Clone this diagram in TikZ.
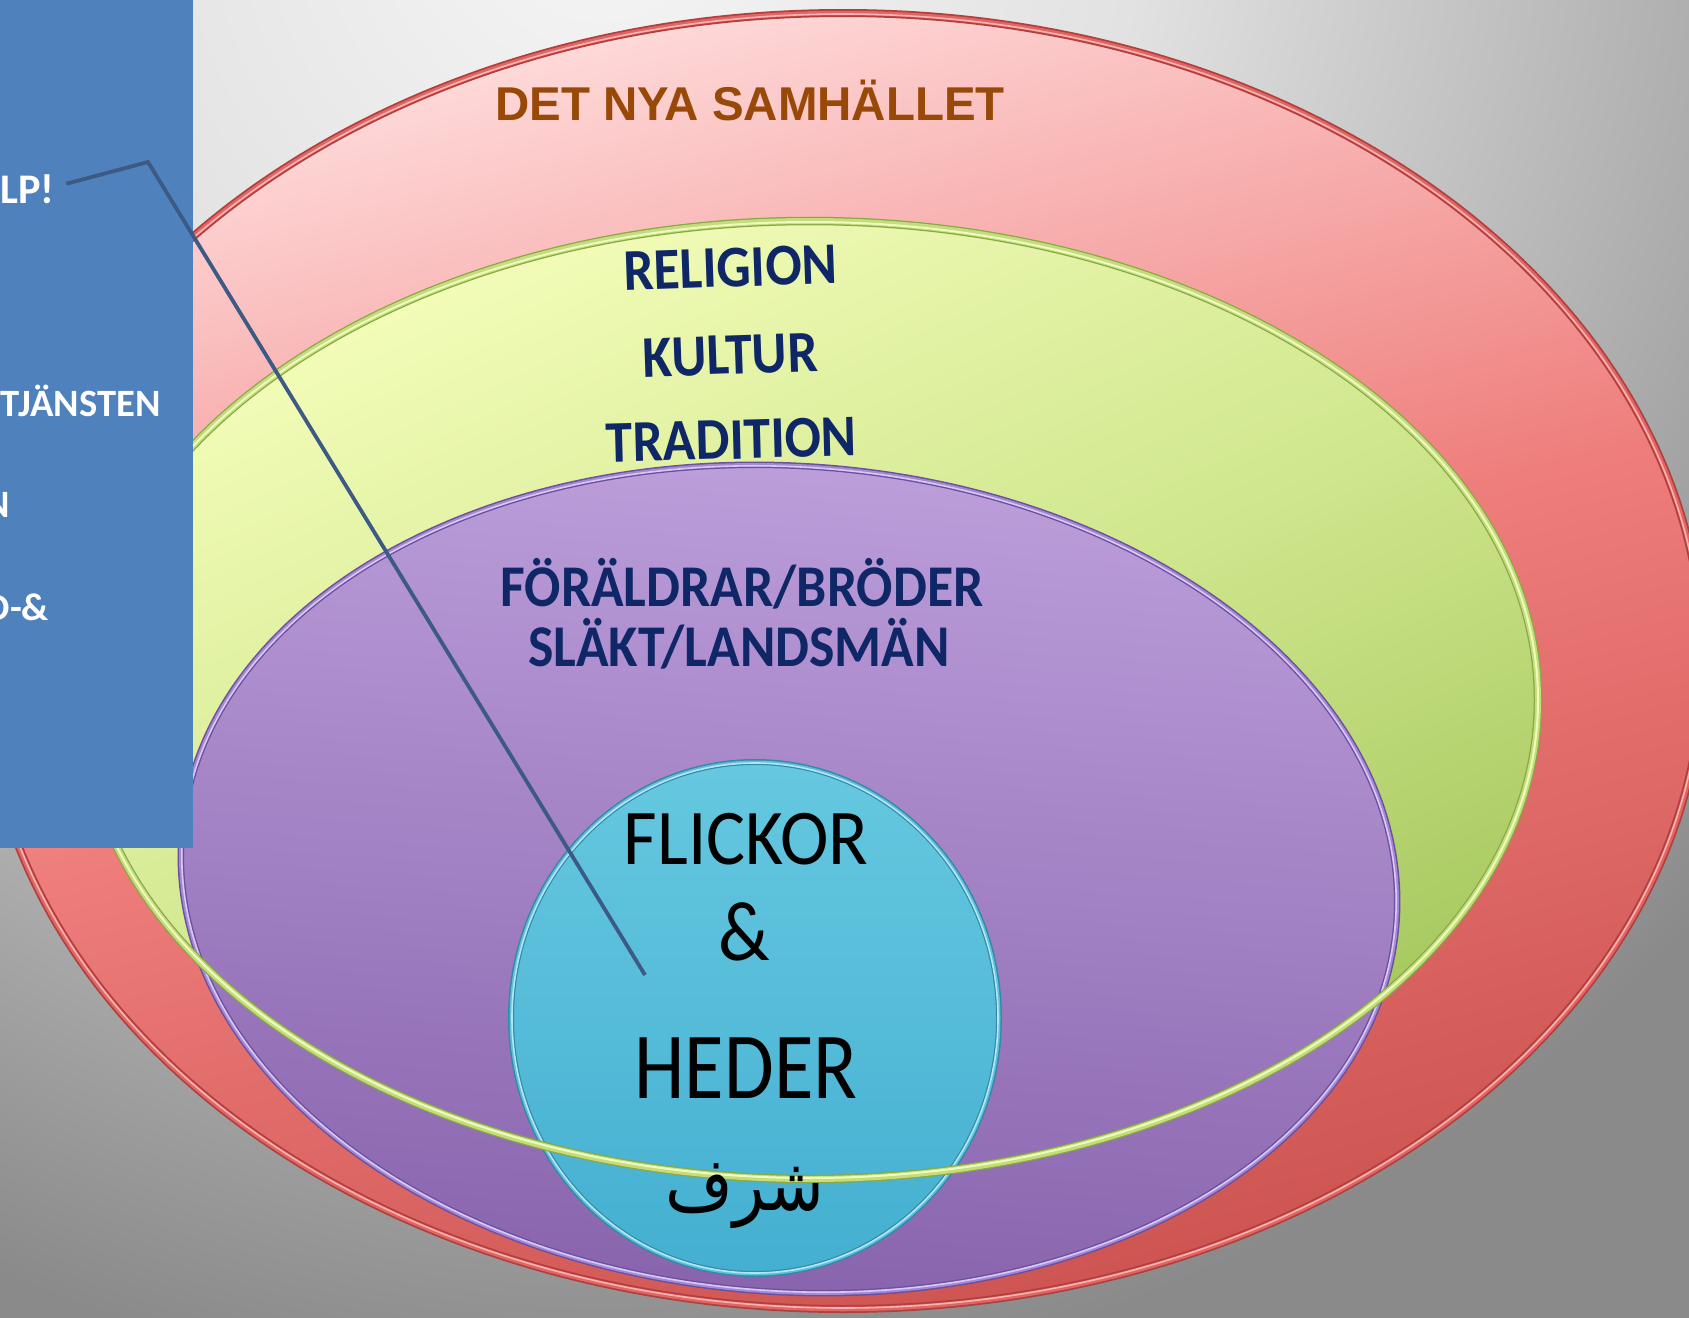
\documentclass[tikz,border=0pt]{standalone}
\usepackage{fontspec}
\setmainfont{Carlito}
\newfontfamily\headfont{Liberation Sans}
\newfontfamily\arabicfont[Script=Arabic]{DejaVu Sans}
\TeXXeTstate=1

\definecolor{bgin}{HTML}{F6F6F6}
\definecolor{bgmid}{HTML}{E2E2E2}
\definecolor{bgout}{HTML}{8A8A8A}
\definecolor{panelblue}{HTML}{4F81BD}
\definecolor{calloutblue}{HTML}{3D5A85}
\definecolor{samhbrown}{HTML}{984807}
\definecolor{textnavy}{HTML}{0F2766}
\definecolor{redlight}{HTML}{FFDCDC}
\definecolor{redmid}{HTML}{EE7D7B}
\definecolor{reddark}{HTML}{CC5350}
\definecolor{rededge}{HTML}{B23E3E}
\definecolor{redband}{HTML}{E06664}
\definecolor{redhi}{HTML}{F8B4B2}
\definecolor{greenlight}{HTML}{F4FDBA}
\definecolor{greenmid}{HTML}{D0E78E}
\definecolor{greendark}{HTML}{A4C65C}
\definecolor{greenedge}{HTML}{86A845}
\definecolor{greenband}{HTML}{C4DD7A}
\definecolor{greenhi}{HTML}{EEFAC0}
\definecolor{purplelight}{HTML}{BEA0DC}
\definecolor{purpledark}{HTML}{8762AC}
\definecolor{purpleedge}{HTML}{6C50A0}
\definecolor{purpleband}{HTML}{A488D2}
\definecolor{purplehi}{HTML}{D8C8F6}
\definecolor{cyanlight}{HTML}{66C8E0}
\definecolor{cyandark}{HTML}{44AFD1}
\definecolor{cyanedge}{HTML}{3289A8}
\definecolor{cyanband}{HTML}{60BEDA}
\definecolor{cyanhi}{HTML}{B2E8F6}

\pgfdeclareradialshading{bgglow}{\pgfpointorigin}{color(0bp)=(bgin); color(4.5bp)=(bgmid); color(12.5bp)=(bgout); color(50bp)=(bgout)}

\begin{document}
\begin{tikzpicture}[x=0.1mm, y=-0.1mm,
    edge/.style={line width=0.8mm},
    band/.style={line width=0.45mm},
    hilite/.style={line width=0.16mm},
    navytext/.style={font=\bfseries\fontsize{15.3}{18}\selectfont, text=textnavy, anchor=base},
    paneltext/.style={font=\bfseries\fontsize{11}{13}\selectfont, text=white, anchor=base west, inner sep=0pt},
    circletext/.style={text=black, anchor=base}]

\useasboundingbox (0,0) rectangle (1689,1318);
\begin{scope}
  \clip (0,0) rectangle (1689,1318);
  \shade[shading=bgglow] (600,-100) circle (3000);
\end{scope}

% outer ring
\shade[top color=redlight, bottom color=reddark, middle color=redmid, shading angle=15] (843,661) ellipse [x radius=860, y radius=648];
\draw[edge, rededge] (843,661) ellipse [x radius=860, y radius=648];
\draw[band, redband] (843,661) ellipse [x radius=860, y radius=648];
\draw[hilite, redhi] (843,661) ellipse [x radius=859, y radius=647];

% religion ring
\shade[top color=greenlight, bottom color=greendark, middle color=greenmid, shading angle=25] (810,700) ellipse [x radius=728, y radius=479];

% family ring
\begin{scope}[rotate around={-4:(789,879)}]
  \shade[top color=purplelight, bottom color=purpledark, shading angle=-4] (789,879) ellipse [x radius=609, y radius=413];
  \draw[edge, purpleedge, line width=0.65mm] (789,879) ellipse [x radius=609, y radius=413];
  \draw[band, purpleband, line width=0.35mm] (789,879) ellipse [x radius=609, y radius=413];
  \draw[hilite, purplehi] (789,879) ellipse [x radius=608, y radius=412];
\end{scope}

% centre circle
\shade[top color=cyanlight, bottom color=cyandark] (755,1018) ellipse [x radius=244, y radius=256];
\draw[edge, cyanedge, line width=0.6mm] (755,1018) ellipse [x radius=244, y radius=256];
\draw[band, cyanband, line width=0.3mm] (755,1018) ellipse [x radius=244, y radius=256];
\draw[hilite, cyanhi] (755,1018) ellipse [x radius=243, y radius=255];

% green rim runs over everything
\draw[edge, greenedge, line width=0.85mm] (810,700) ellipse [x radius=728, y radius=479];
\draw[band, greenband, line width=0.6mm] (810,700) ellipse [x radius=728, y radius=479];
\draw[hilite, greenhi, line width=0.2mm] (810,700) ellipse [x radius=728, y radius=478];

% side panel
\fill[panelblue] (0,0) rectangle (193,848);
\node[paneltext, font=\bfseries\fontsize{12}{14}\selectfont] (lp) at (0,203) {LP!};
\node[paneltext] (tjansten) at (0,416) {TJÄNSTEN};
\node[paneltext] (nrow) at (-16,517) {N};
\node[paneltext] (drow) at (-15,620) {D-\&};

% labels
\node[font=\headfont\bfseries\fontsize{13.5}{16}\selectfont, text=samhbrown, anchor=base] (samhallet) at (750,120) {DET NYA SAMHÄLLET};
\node[navytext, rotate=2] (religion) at (731,287) {\scalebox{1}[1.1]{RELIGION}};
\node[navytext, rotate=2] (kultur) at (731,374) {\scalebox{1}[1.1]{KULTUR}};
\node[navytext, rotate=1.5] (tradition) at (732,459) {\scalebox{1}[1.1]{TRADITION}};
\node[navytext] (foraldrar) at (742,606) {\scalebox{1}[1.1]{FÖRÄLDRAR/BRÖDER}};
\node[navytext] (slakt) at (739,666) {\scalebox{1}[1.1]{SLÄKT/LANDSMÄN}};
\node[circletext, font=\fontsize{20.8}{24}\selectfont] (flickor) at (746,864) {\scalebox{1}[1.08]{FLICKOR}};
\node[circletext, font=\fontsize{21.5}{24}\selectfont] (och) at (744,960) {\scalebox{1}[1.12]{\&}};
\node[circletext, font=\fontsize{23}{26}\selectfont] (heder) at (746,1098) {\scalebox{1}[1.17]{HEDER}};
\node[circletext, font=\fontsize{18.6}{22}\selectfont] (sharaf) at (745,1210) {\scalebox{1}[1.13]{\arabicfont\beginR شرف\endR}};

% callout
\coordinate (bend) at (148,162);
\coordinate (tip) at (645,975);
\draw[calloutblue, line width=0.38mm] ([shift={(11,-5)}]lp.east) -- (bend) -- (tip);
\end{tikzpicture}
\end{document}
